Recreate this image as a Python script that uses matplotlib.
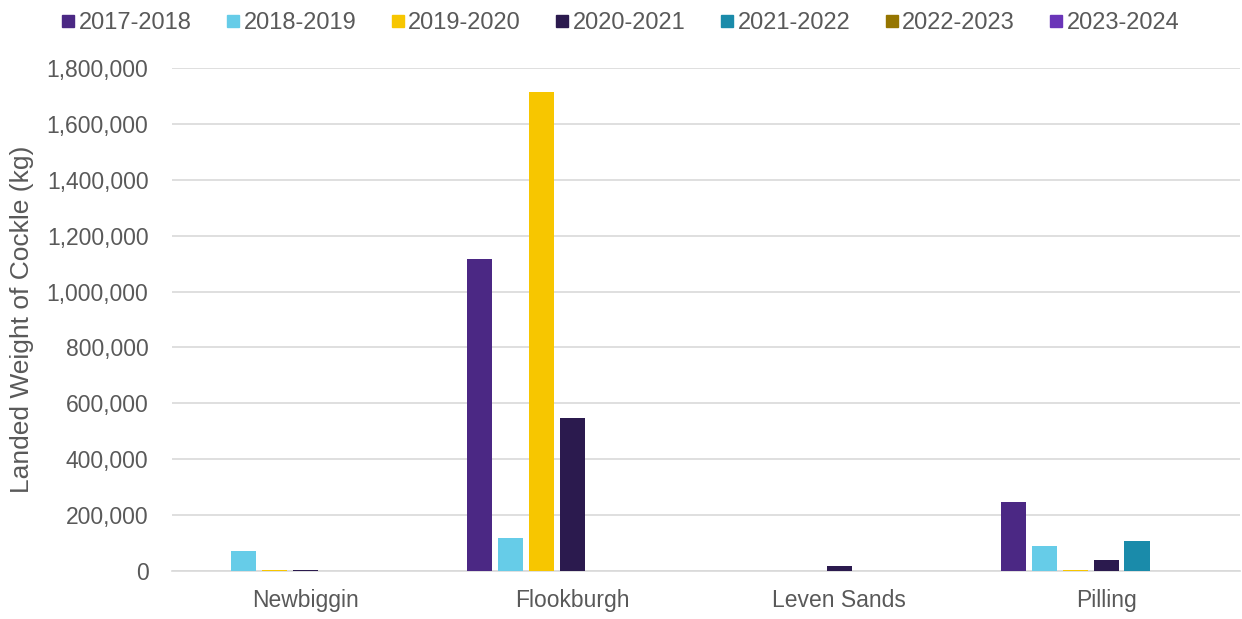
import matplotlib.pyplot as plt
import numpy as np
from matplotlib.lines import Line2D
from matplotlib.ticker import FuncFormatter

plt.rcParams['font.family'] = ['Liberation Sans', 'DejaVu Sans']

sites = ['Newbiggin', 'Flookburgh', 'Leven Sands', 'Pilling']
seasons = ['2017-2018', '2018-2019', '2019-2020', '2020-2021',
           '2021-2022', '2022-2023', '2023-2024']
colors = ['#4b2884', '#66cce8', '#f7c600', '#2b1a4e',
          '#1a8baa', '#957500', '#6a35b8']

# landed weight (kg) per season, one value per site
w_1718 = [0, 1117000, 0, 248000]
w_1819 = [72000, 118000, 0, 88000]
w_1920 = [2500, 1714000, 0, 5000]
w_2021 = [5000, 548000, 18000, 38000]
w_2122 = [0, 0, 0, 109000]
w_2223 = [0, 0, 0, 0]
w_2324 = [0, 0, 0, 0]
weights = [w_1718, w_1819, w_1920, w_2021, w_2122, w_2223, w_2324]

fig = plt.figure(figsize=(12.42, 6.19), dpi=100)
ax = fig.add_axes([0.1385, 0.0775, 0.8595, 0.8125])

x = np.arange(len(sites))
slot = 0.116
for i, (vals, c) in enumerate(zip(weights, colors)):
    ax.bar(x + (i - 3) * slot, vals, width=0.094, color=c, zorder=3)

ax.set_xlim(-0.5, 3.5)
ax.set_ylim(0, 1800000)
ax.set_yticks(np.arange(0, 1800001, 200000))
ax.yaxis.set_major_formatter(FuncFormatter(lambda v, p: '{:,.0f}'.format(v)))
ax.set_xticks(x)
ax.set_xticklabels(sites)
ax.grid(axis='y', color='#d9d9d9', linewidth=1.2, zorder=0)
for s in ['top', 'right', 'left']:
    ax.spines[s].set_visible(False)
ax.spines['bottom'].set_color('#d9d9d9')
ax.spines['bottom'].set_linewidth(1.2)
ax.tick_params(length=0, labelsize=16.5, colors='#595959')
ax.tick_params(axis='x', pad=13)
ax.tick_params(axis='y', pad=17)
ax.set_ylabel('Landed Weight of Cockle (kg)', fontsize=19, color='#595959')
ax.yaxis.set_label_coords(-0.129, 0.5)

handles = [Line2D([], [], marker='s', linestyle='', color=c, markersize=8) for c in colors]
fig.legend(handles, seasons, loc='upper center', bbox_to_anchor=(0.5, 1.015), ncol=7,
           frameon=False, fontsize=17, handlelength=0.5, handletextpad=0.2,
           columnspacing=1.5, labelcolor='#595959')

fig.savefig('out.png', dpi=100)
